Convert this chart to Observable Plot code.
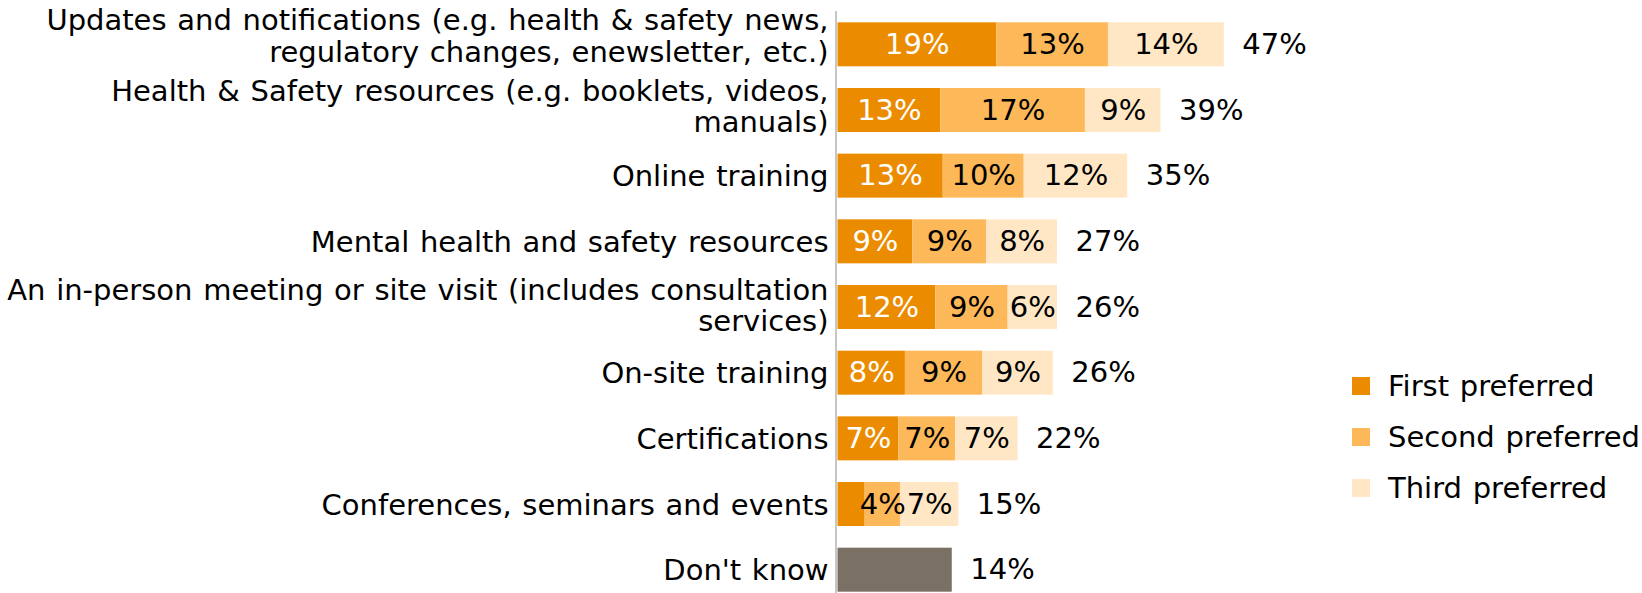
<!DOCTYPE html>
<html>
<head>
<meta charset="utf-8">
<script src="https://cdn.jsdelivr.net/npm/d3@7"></script>
<script src="https://cdn.jsdelivr.net/npm/@observablehq/plot@0.6"></script>
<style>
  html, body { margin: 0; padding: 0; background: #fff; }
  body { font-family: "DejaVu Sans", Verdana, sans-serif; }
  #wrap { position: relative; width: 1642px; height: 593px; overflow: hidden; }
  #legend { position: absolute; left: 1352px; top: 360px; font-size: 29px; color: #000; word-spacing: 1.5px; }
  #legend .item { display: flex; align-items: center; height: 51.3px; white-space: nowrap; }
  #legend .sw { width: 18px; height: 18px; margin-right: 18px; flex: none; }
  .cat text { word-spacing: 1.5px; }
</style>
</head>
<body>
<div id="wrap"><div id="legend"></div></div>
<script>
const categories = [
  "Updates and notifications (e.g. health & safety news,\nregulatory changes, enewsletter, etc.)",
  "Health & Safety resources (e.g. booklets, videos,\nmanuals)",
  "Online training",
  "Mental health and safety resources",
  "An in-person meeting or site visit (includes consultation\nservices)",
  "On-site training",
  "Certifications",
  "Conferences, seminars and events",
  "Don't know"
];
const seriesNames = ["First preferred", "Second preferred", "Third preferred", "Don't know"];
const seriesColors = ["#EB8C00", "#FDB859", "#FFE7C6", "#7A7063"];

// values (percent); last category has only "Don't know"
const firstValues  = [19.3, 12.5, 12.8, 9.1, 11.9, 8.2, 7.4, 3.3];
const secondValues = [13.6, 17.6, 9.85, 9.0, 8.8, 9.4, 6.9, 4.3];
const thirdValues  = [14.1, 9.2, 12.6, 8.6, 6.0, 8.6, 7.6, 7.1];
const dontKnowValue = 13.9;

// printed labels
const firstLabels  = ["19%", "13%", "13%", "9%", "12%", "8%", "7%", ""];
const secondLabels = ["13%", "17%", "10%", "9%", "9%", "9%", "7%", "4%"];
const thirdLabels  = ["14%", "9%", "12%", "8%", "6%", "9%", "7%", "7%"];
const totalLabels  = ["47%", "39%", "35%", "27%", "26%", "26%", "22%", "15%", "14%"];

// build segments
const segs = [];
const totals = [];
for (let i = 0; i < 8; i++) {
  let x = 0;
  const vals = [firstValues[i], secondValues[i], thirdValues[i]];
  const labs = [firstLabels[i], secondLabels[i], thirdLabels[i]];
  for (let s = 0; s < 3; s++) {
    segs.push({cat: categories[i], series: seriesNames[s], x1: x, x2: x + vals[s], label: labs[s]});
    x += vals[s];
  }
  totals.push({cat: categories[i], x, label: totalLabels[i]});
}
segs.push({cat: categories[8], series: seriesNames[3], x1: 0, x2: dontKnowValue, label: ""});
totals.push({cat: categories[8], x: dontKnowValue, label: totalLabels[8]});

const fs = 29;
// vertical nudges for wrapped category labels (layout only)
const labelNudge = [-9, -4, 0, 0, -2, 0, 0, 0, 0];
const catMarks = [...new Set(labelNudge)].map(n =>
  Plot.text(categories.filter((c, i) => labelNudge[i] === n), {
    x: 0, y: d => d, text: d => d, textAnchor: "end", dx: -9.5, dy: n,
    lineHeight: 1.08, fontSize: fs, fill: "#000", className: "cat"
  })
);

const chart = Plot.plot({
  width: 1642,
  height: 593,
  marginLeft: 837.5,
  marginRight: 393.5,
  marginTop: 21,
  marginBottom: 0,
  style: {fontFamily: "DejaVu Sans, Verdana, sans-serif", fontSize: fs + "px", background: "#fff", overflow: "visible"},
  x: {domain: [0, 50], axis: null},
  y: {domain: categories, axis: null, paddingInner: 0.33, paddingOuter: 0.02, round: false},
  color: {domain: seriesNames, range: seriesColors},
  marks: [
    Plot.barX(segs, {x1: "x1", x2: "x2", y: "cat", fill: "series"}),
    Plot.ruleX([0], {stroke: "#C6C6C6", strokeWidth: 2, dx: -2, insetTop: -10}),
    Plot.text(segs.filter(d => d.label), {
      x: d => (d.x1 + d.x2) / 2, y: "cat", text: "label", fontSize: fs,
      fill: d => d.series === "First preferred" ? "#fff" : "#000"
    }),
    Plot.text(totals, {x: "x", y: "cat", text: "label", textAnchor: "start", dx: 18, fontSize: fs, fill: "#000"}),
    ...catMarks
  ]
});
document.getElementById("wrap").prepend(chart);

const legend = document.getElementById("legend");
seriesNames.slice(0, 3).forEach((name, i) => {
  const item = document.createElement("div");
  item.className = "item";
  const sw = document.createElement("span");
  sw.className = "sw";
  sw.style.background = seriesColors[i];
  const t = document.createElement("span");
  t.textContent = name;
  item.appendChild(sw);
  item.appendChild(t);
  legend.appendChild(item);
});
</script>
</body>
</html>
